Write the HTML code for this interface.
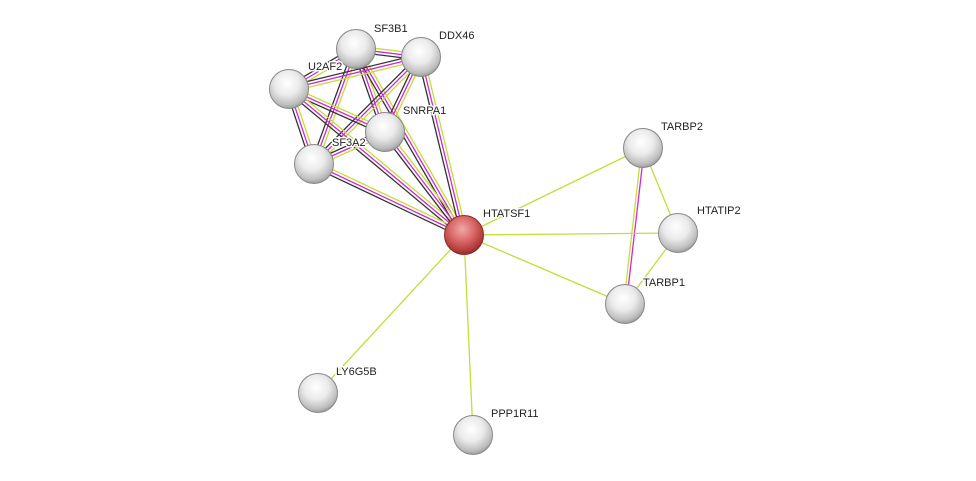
<!DOCTYPE html>
<html><head><meta charset="utf-8"><style>
html,body{margin:0;padding:0;background:#fff;}
svg{display:block}
text{font-family:"Liberation Sans",sans-serif;font-size:11px;fill:#222;stroke:#fff;stroke-width:3px;paint-order:stroke;stroke-linejoin:round}
</style></head><body>
<svg id="s" width="976" height="481" viewBox="0 0 976 481" xmlns="http://www.w3.org/2000/svg">
<defs>
<radialGradient id="g" cx="0.45" cy="0.35" r="0.7">
<stop offset="0" stop-color="#ffffff"/><stop offset="0.45" stop-color="#ebebeb"/><stop offset="0.8" stop-color="#bdbdbd"/><stop offset="1" stop-color="#8c8c8c"/>
</radialGradient>
<radialGradient id="r" cx="0.45" cy="0.35" r="0.7">
<stop offset="0" stop-color="#f2a8a8"/><stop offset="0.45" stop-color="#d96868"/><stop offset="0.8" stop-color="#b23a3a"/><stop offset="1" stop-color="#842424"/>
</radialGradient>
</defs>
<g id="edges"></g>
<g id="nodes"></g>
<text x="374" y="32">SF3B1</text>
<text x="439" y="39">DDX46</text>
<text x="308" y="70">U2AF2</text>
<text x="403" y="114">SNRPA1</text>
<text x="332" y="146">SF3A2</text>
<text x="483" y="217">HTATSF1</text>
<text x="661" y="130">TARBP2</text>
<text x="697" y="214">HTATIP2</text>
<text x="643" y="286">TARBP1</text>
<text x="336" y="375">LY6G5B</text>
<text x="491" y="417">PPP1R11</text>
</svg>
<script>
var N={SF3B1:[356,49],DDX46:[421,57],U2AF2:[289,89],SNRPA1:[385,132],SF3A2:[314,164],HTATSF1:[464,235],TARBP2:[643,148],HTATIP2:[678,233],TARBP1:[625,304],LY6G5B:[318,393],PPP1R11:[473,435]};
var G="#c5dc3a",M="#d426d4",D="#333";
var E=document.getElementById('edges'),ns="http://www.w3.org/2000/svg";
function line(a,b,off,c){var p=N[a],q=N[b],dx=q[0]-p[0],dy=q[1]-p[1],l=Math.hypot(dx,dy),ox=-dy/l*off,oy=dx/l*off;
var e=document.createElementNS(ns,'line');e.setAttribute('x1',p[0]+ox);e.setAttribute('y1',p[1]+oy);e.setAttribute('x2',q[0]+ox);e.setAttribute('y2',q[1]+oy);e.setAttribute('stroke',c);e.setAttribute('stroke-width',1.3);E.appendChild(e);}
var C=['SF3B1','DDX46','U2AF2','SNRPA1','SF3A2','HTATSF1'];
for(var i=0;i<C.length;i++)for(var j=i+1;j<C.length;j++){line(C[i],C[j],-3,G);line(C[i],C[j],0,M);line(C[i],C[j],3,D);}
line('TARBP2','TARBP1',-1.3,M);line('TARBP2','TARBP1',1.3,G);
[['TARBP2','HTATIP2'],['HTATIP2','TARBP1'],['HTATSF1','TARBP2'],['HTATSF1','HTATIP2'],['HTATSF1','TARBP1'],['HTATSF1','LY6G5B'],['HTATSF1','PPP1R11']].forEach(function(e){line(e[0],e[1],0,G);});
var Nd=document.getElementById('nodes');
for(var k in N){var c=document.createElementNS(ns,'circle');c.setAttribute('cx',N[k][0]);c.setAttribute('cy',N[k][1]);c.setAttribute('r',19.5);c.setAttribute('fill',k=='HTATSF1'?'url(#r)':'url(#g)');c.setAttribute('stroke',k=='HTATSF1'?'#8a2a2a':'#888');c.setAttribute('stroke-width',1);Nd.appendChild(c);}
</script>
</body></html>
